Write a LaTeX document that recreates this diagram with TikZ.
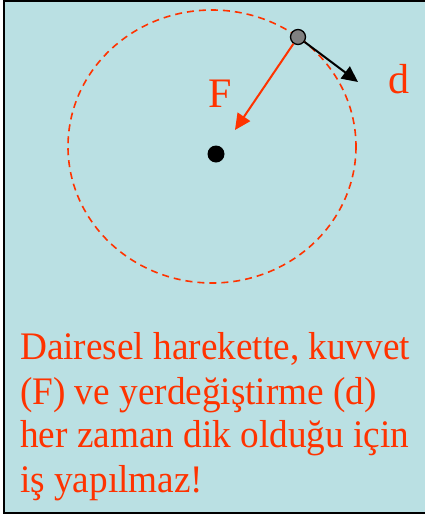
\documentclass[tikz,border=0pt]{standalone}
\usepackage{fontspec}
\setmainfont{Liberation Serif}
\newfontfamily\bodyfont[FakeStretch=0.955]{Liberation Serif}
\usetikzlibrary{arrows.meta}
\definecolor{bgcyan}{RGB}{186,224,227}
\definecolor{redor}{RGB}{255,51,0}
\definecolor{ballgray}{RGB}{128,128,128}
\tikzset{
  txt/.style={anchor=base west, inner sep=0pt, text=redor, font=\bodyfont\fontsize{39}{44}\selectfont},
  vec/.style={line width=2pt, -{Triangle[length=16pt,width=15pt]}},
}
\begin{document}
\begin{tikzpicture}[x=1pt,y=-1pt]
\useasboundingbox (0,0) rectangle (425,515);
\draw[line width=2pt, fill=bgcyan] (4,1) rectangle (440,513);
\draw[redor, line width=1.6pt, dash pattern=on 7pt off 5pt] (212,146.5) ellipse [x radius=144, y radius=136.5];
\node[circle, fill=black, minimum size=17pt, inner sep=0pt] (center) at (216,154) {};
\node[circle, fill=ballgray, draw=black, line width=1.3pt, minimum size=15pt, inner sep=0pt] (ball) at (298,37) {};
\coordinate (Ftip) at (235,130);
\coordinate (dtip) at (358,82);
\draw[vec, redor] (ball) -- (Ftip);
\draw[vec, black] (ball) -- (dtip);
\node[anchor=base, inner sep=0pt, text=redor, font=\fontsize{42}{42}\selectfont] (Flabel) at (220,107) {F};
\node[anchor=base west, inner sep=0pt, text=redor, font=\fontsize{42}{42}\selectfont] (dlabel) at (388,93) {d};
\node[txt] (l1) at (20,359) {Dairesel harekette, kuvvet};
\node[txt] (l2) at (20,404) {(F) ve yerdeğiştirme (d)};
\node[txt] (l3) at (20,447) {her zaman dik olduğu için};
\node[txt] (l4) at (20,492) {iş yapılmaz!};
\end{tikzpicture}
\end{document}
